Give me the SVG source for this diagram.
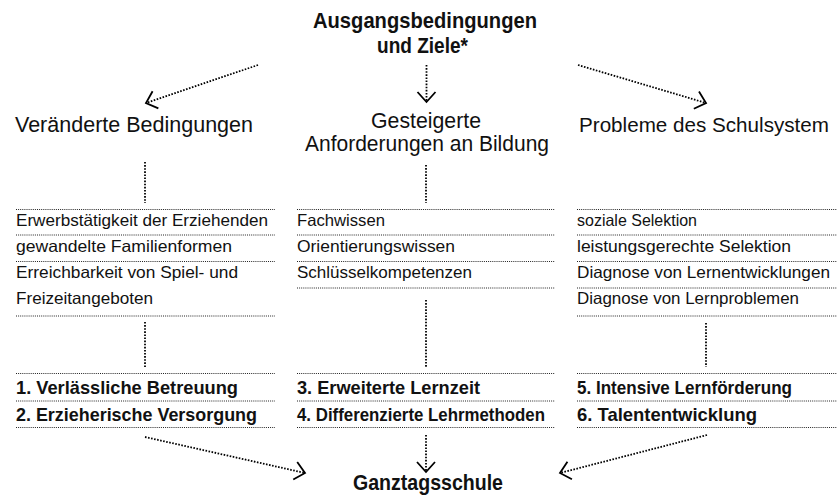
<svg xmlns="http://www.w3.org/2000/svg" width="837" height="497" viewBox="0 0 837 497">
<defs>
<marker id="ah" markerUnits="userSpaceOnUse" markerWidth="30" markerHeight="30" viewBox="-15 -15 30 30" refX="0" refY="0" orient="auto" overflow="visible">
<path d="M-10,-9 L0,0 L-10,9" fill="none" stroke="#000" stroke-width="1.8" stroke-dasharray="none"/>
</marker>
</defs>
<style>
text{font-family:"Liberation Sans","Roboto",Arial,sans-serif;fill:#111}
.h{font-size:21.5px}
.t{font-size:16.5px}
.b{font-size:18.5px;font-weight:bold}
.bt{font-size:21.5px;font-weight:bold}
.sep{stroke:#222;stroke-width:1;stroke-dasharray:1 1.1;fill:none}
.con{stroke:#000;stroke-width:1.8;stroke-dasharray:1.6 1.5;fill:none}
</style>
<rect width="837" height="497" fill="#fff"/>
<g id="title"><text class="bt" x="313" y="28" textLength="224" lengthAdjust="spacingAndGlyphs">Ausgangsbedingungen</text><text class="bt" x="377" y="53" textLength="91" lengthAdjust="spacingAndGlyphs">und Ziele*</text></g>
<g id="h1"><text class="h" x="15" y="132" textLength="238" lengthAdjust="spacingAndGlyphs">Veränderte Bedingungen</text></g>
<g id="h2"><text class="h" x="371" y="128" textLength="110" lengthAdjust="spacingAndGlyphs">Gesteigerte</text><text class="h" x="305" y="151" textLength="244" lengthAdjust="spacingAndGlyphs">Anforderungen an Bildung</text></g>
<g id="h3"><text class="h" x="579" y="132" textLength="250" lengthAdjust="spacingAndGlyphs" style="font-size:20.5px">Probleme des Schulsystem</text></g>
<g id="list1">
<path class="sep" d="M16,209.5H275M16,235H275M16,261.5H275M16,316H275"/>
<text class="t" x="16" y="225.5" textLength="252" lengthAdjust="spacingAndGlyphs">Erwerbstätigkeit der Erziehenden</text>
<text class="t" x="16" y="251.5" textLength="216" lengthAdjust="spacingAndGlyphs">gewandelte Familienformen</text>
<text class="t" x="16" y="277.5" textLength="222" lengthAdjust="spacingAndGlyphs">Erreichbarkeit von Spiel- und</text>
<text class="t" x="16" y="304" textLength="137" lengthAdjust="spacingAndGlyphs">Freizeitangeboten</text>
</g>
<g id="list2">
<path class="sep" d="M297,209.5H555M297,235H555M297,261.5H555M297,288H555"/>
<text class="t" x="297" y="225.5" textLength="88" lengthAdjust="spacingAndGlyphs">Fachwissen</text>
<text class="t" x="297" y="251.5" textLength="158" lengthAdjust="spacingAndGlyphs">Orientierungswissen</text>
<text class="t" x="297" y="277.5" textLength="175" lengthAdjust="spacingAndGlyphs">Schlüsselkompetenzen</text>
</g>
<g id="list3">
<path class="sep" d="M577,209.5H837M577,235H837M577,261.5H837M577,288H837M577,316H837"/>
<text class="t" x="577" y="225.5" textLength="120" lengthAdjust="spacingAndGlyphs">soziale Selektion</text>
<text class="t" x="577" y="251.5" textLength="214" lengthAdjust="spacingAndGlyphs">leistungsgerechte Selektion</text>
<text class="t" x="577" y="277.5" textLength="253" lengthAdjust="spacingAndGlyphs">Diagnose von Lernentwicklungen</text>
<text class="t" x="577" y="304" textLength="222" lengthAdjust="spacingAndGlyphs">Diagnose von Lernproblemen</text>
</g>
<g id="goals1">
<path class="sep" d="M16,373.5H275M16,401H275M16,427.5H275"/>
<text class="b" x="16" y="393.5" textLength="222" lengthAdjust="spacingAndGlyphs">1. Verlässliche Betreuung</text>
<text class="b" x="16" y="420.5" textLength="241" lengthAdjust="spacingAndGlyphs">2. Erzieherische Versorgung</text>
</g>
<g id="goals2">
<path class="sep" d="M297,373.5H555M297,401H555M297,427.5H555"/>
<text class="b" x="297" y="393.5" textLength="183" lengthAdjust="spacingAndGlyphs">3. Erweiterte Lernzeit</text>
<text class="b" x="297" y="420.5" textLength="248" lengthAdjust="spacingAndGlyphs">4. Differenzierte Lehrmethoden</text>
</g>
<g id="goals3">
<path class="sep" d="M577,373.5H837M577,401H837M577,427.5H837"/>
<text class="b" x="577" y="393.5" textLength="215" lengthAdjust="spacingAndGlyphs">5. Intensive Lernförderung</text>
<text class="b" x="577" y="420.5" textLength="180" lengthAdjust="spacingAndGlyphs">6. Talententwicklung</text>
</g>
<g id="result"><text class="bt" x="353" y="490" textLength="150" lengthAdjust="spacingAndGlyphs">Ganztagsschule</text></g>
<g id="connectors">
<line class="con" x1="258" y1="65" x2="146" y2="103" marker-end="url(#ah)"/>
<line class="con" x1="426.5" y1="65" x2="426.5" y2="102" marker-end="url(#ah)"/>
<line class="con" x1="578" y1="65" x2="706" y2="103" marker-end="url(#ah)"/>
<line class="con" x1="145" y1="162" x2="145" y2="203"/>
<line class="con" x1="426" y1="165" x2="426" y2="203"/>
<line class="con" x1="145" y1="322" x2="145" y2="367"/>
<line class="con" x1="426" y1="300" x2="426" y2="367"/>
<line class="con" x1="706" y1="323" x2="706" y2="367"/>
<line class="con" x1="145" y1="437" x2="305" y2="473" marker-end="url(#ah)"/>
<line class="con" x1="426" y1="435" x2="426" y2="472" marker-end="url(#ah)"/>
<line class="con" x1="707" y1="435" x2="560" y2="473" marker-end="url(#ah)"/>
</g>
</svg>
